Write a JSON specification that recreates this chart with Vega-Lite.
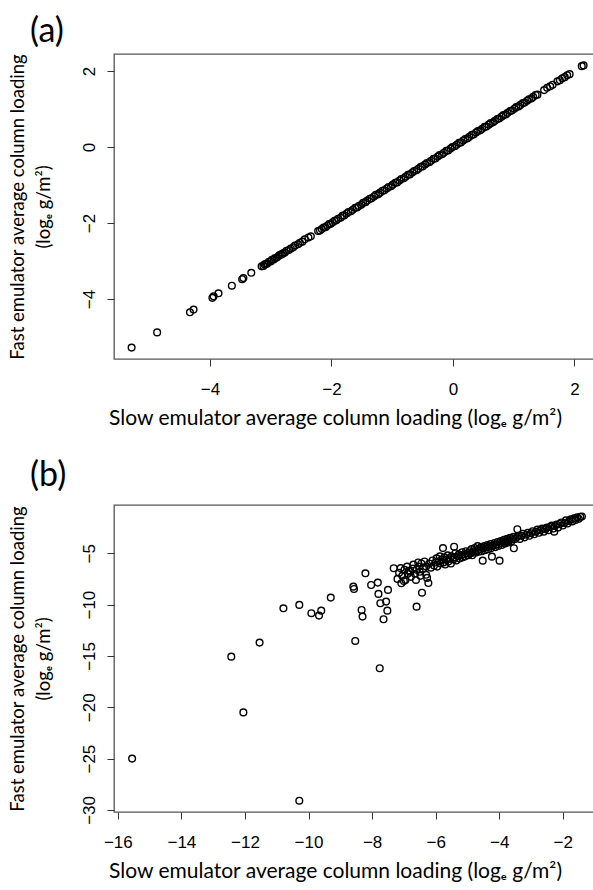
{
  "$schema": "https://vega.github.io/schema/vega-lite/v6.json",
  "background": "white",
  "padding": {"left": 7, "top": 13, "right": 0, "bottom": 0},
  "spacing": 29,
  "config": {
    "view": {"stroke": "#555555", "strokeWidth": 1.3},
    "axis": {
      "domain": false,
      "grid": false,
      "ticks": true,
      "tickSize": 7,
      "tickColor": "#333333",
      "tickWidth": 1,
      "labelFont": "Liberation Sans",
      "labelFontSize": 17,
      "labelColor": "black",
      "titleFont": "Lato",
      "titleFontWeight": "normal",
      "titleColor": "black"
    },
    "axisX": {"labelPadding": 15, "titlePadding": 10, "titleFontSize": 21, "titleX": 221},
    "axisY": {"labelAngle": -90, "labelPadding": 9, "titlePadding": 27, "titleLineHeight": 26, "titleFontSize": 18.5},
    "title": {"font": "Lato", "fontSize": 34, "fontWeight": "normal", "color": "black", "anchor": "start", "frame": "bounds"}
  },
  "datasets": {
    "a": [
      {"x": -5.29, "y": -5.28}, {"x": -4.87, "y": -4.88}, {"x": -4.33, "y": -4.35}, {"x": -4.27, "y": -4.28},
      {"x": -3.96, "y": -3.97}, {"x": -3.94, "y": -3.93}, {"x": -3.86, "y": -3.85}, {"x": -3.64, "y": -3.65},
      {"x": -3.47, "y": -3.48}, {"x": -3.45, "y": -3.45}, {"x": -3.32, "y": -3.31},
      {"x": -3.15, "y": -3.14}, {"x": -3.12, "y": -3.13}, {"x": -3.1, "y": -3.09}, {"x": -3.08, "y": -3.08},
      {"x": -3.06, "y": -3.07}, {"x": -3.03, "y": -3.02}, {"x": -3.0, "y": -3.01}, {"x": -2.98, "y": -2.97},
      {"x": -2.95, "y": -2.96}, {"x": -2.93, "y": -2.92}, {"x": -2.9, "y": -2.91}, {"x": -2.87, "y": -2.87},
      {"x": -2.85, "y": -2.84}, {"x": -2.82, "y": -2.83}, {"x": -2.8, "y": -2.8}, {"x": -2.77, "y": -2.78},
      {"x": -2.74, "y": -2.73}, {"x": -2.7, "y": -2.71}, {"x": -2.67, "y": -2.67}, {"x": -2.63, "y": -2.64},
      {"x": -2.6, "y": -2.59}, {"x": -2.55, "y": -2.56}, {"x": -2.52, "y": -2.52}, {"x": -2.48, "y": -2.49},
      {"x": -2.44, "y": -2.43}, {"x": -2.38, "y": -2.38}, {"x": -2.34, "y": -2.35}, {"x": -2.22, "y": -2.21},
      {"x": -2.19, "y": -2.2}, {"x": -2.16, "y": -2.16}, {"x": -2.13, "y": -2.12}, {"x": -2.1, "y": -2.11},
      {"x": -2.07, "y": -2.07}, {"x": -2.04, "y": -2.03}, {"x": -2.01, "y": -2.02}, {"x": -1.98, "y": -1.98},
      {"x": -1.95, "y": -1.94}, {"x": -1.92, "y": -1.93}, {"x": -1.89, "y": -1.89}, {"x": -1.85, "y": -1.86},
      {"x": -1.82, "y": -1.81}, {"x": -1.79, "y": -1.8}, {"x": -1.75, "y": -1.75}, {"x": -1.72, "y": -1.71},
      {"x": -1.68, "y": -1.69}, {"x": -1.65, "y": -1.65}, {"x": -1.61, "y": -1.6}, {"x": -1.58, "y": -1.59},
      {"x": -1.55, "y": -1.55}, {"x": -1.51, "y": -1.52}, {"x": -1.48, "y": -1.47}, {"x": -1.44, "y": -1.45},
      {"x": -1.41, "y": -1.41}, {"x": -1.37, "y": -1.36}, {"x": -1.34, "y": -1.35}, {"x": -1.3, "y": -1.3},
      {"x": -1.27, "y": -1.26}, {"x": -1.23, "y": -1.24}, {"x": -1.2, "y": -1.2}, {"x": -1.16, "y": -1.15},
      {"x": -1.13, "y": -1.14}, {"x": -1.09, "y": -1.09}, {"x": -1.06, "y": -1.05}, {"x": -1.02, "y": -1.03},
      {"x": -0.99, "y": -0.99}, {"x": -0.95, "y": -0.94}, {"x": -0.92, "y": -0.93}, {"x": -0.88, "y": -0.88},
      {"x": -0.85, "y": -0.84}, {"x": -0.81, "y": -0.82}, {"x": -0.78, "y": -0.78}, {"x": -0.74, "y": -0.73},
      {"x": -0.71, "y": -0.72}, {"x": -0.67, "y": -0.67}, {"x": -0.64, "y": -0.63}, {"x": -0.6, "y": -0.61},
      {"x": -0.57, "y": -0.57}, {"x": -0.53, "y": -0.52}, {"x": -0.5, "y": -0.51}, {"x": -0.46, "y": -0.46},
      {"x": -0.43, "y": -0.42}, {"x": -0.39, "y": -0.4}, {"x": -0.36, "y": -0.36}, {"x": -0.32, "y": -0.31},
      {"x": -0.29, "y": -0.3}, {"x": -0.25, "y": -0.25}, {"x": -0.22, "y": -0.21}, {"x": -0.18, "y": -0.19},
      {"x": -0.15, "y": -0.15}, {"x": -0.11, "y": -0.1}, {"x": -0.08, "y": -0.09}, {"x": -0.04, "y": -0.04},
      {"x": -0.01, "y": 0.0}, {"x": 0.03, "y": 0.02}, {"x": 0.06, "y": 0.06}, {"x": 0.1, "y": 0.11},
      {"x": 0.13, "y": 0.12}, {"x": 0.17, "y": 0.17}, {"x": 0.2, "y": 0.21}, {"x": 0.24, "y": 0.23},
      {"x": 0.27, "y": 0.27}, {"x": 0.31, "y": 0.32}, {"x": 0.34, "y": 0.33}, {"x": 0.38, "y": 0.38},
      {"x": 0.41, "y": 0.42}, {"x": 0.45, "y": 0.44}, {"x": 0.48, "y": 0.48}, {"x": 0.52, "y": 0.53},
      {"x": 0.55, "y": 0.54}, {"x": 0.59, "y": 0.59}, {"x": 0.62, "y": 0.63}, {"x": 0.66, "y": 0.65},
      {"x": 0.69, "y": 0.69}, {"x": 0.73, "y": 0.74}, {"x": 0.76, "y": 0.75}, {"x": 0.8, "y": 0.8},
      {"x": 0.83, "y": 0.84}, {"x": 0.87, "y": 0.86}, {"x": 0.9, "y": 0.9}, {"x": 0.94, "y": 0.95},
      {"x": 0.97, "y": 0.96}, {"x": 1.01, "y": 1.01}, {"x": 1.04, "y": 1.05}, {"x": 1.08, "y": 1.07},
      {"x": 1.11, "y": 1.11}, {"x": 1.15, "y": 1.16}, {"x": 1.18, "y": 1.17}, {"x": 1.22, "y": 1.22},
      {"x": 1.25, "y": 1.26}, {"x": 1.29, "y": 1.28}, {"x": 1.32, "y": 1.32}, {"x": 1.36, "y": 1.37},
      {"x": 1.39, "y": 1.38}, {"x": 1.5, "y": 1.5}, {"x": 1.55, "y": 1.56}, {"x": 1.6, "y": 1.6},
      {"x": 1.64, "y": 1.64}, {"x": 1.72, "y": 1.73}, {"x": 1.76, "y": 1.76}, {"x": 1.8, "y": 1.81},
      {"x": 1.84, "y": 1.84}, {"x": 1.88, "y": 1.89}, {"x": 1.92, "y": 1.92}, {"x": 2.12, "y": 2.13},
      {"x": 2.15, "y": 2.15}
    ],
    "b": [
      {"x": -15.55, "y": -25.0}, {"x": -12.05, "y": -20.5}, {"x": -10.29, "y": -29.1}, {"x": -12.43, "y": -15.07},
      {"x": -11.54, "y": -13.7}, {"x": -10.79, "y": -10.36}, {"x": -10.29, "y": -10.03}, {"x": -9.91, "y": -10.84},
      {"x": -9.67, "y": -11.07}, {"x": -9.6, "y": -10.59}, {"x": -9.3, "y": -9.32}, {"x": -8.59, "y": -8.25},
      {"x": -8.57, "y": -8.48}, {"x": -8.53, "y": -13.54}, {"x": -8.33, "y": -10.52}, {"x": -8.3, "y": -11.17},
      {"x": -8.21, "y": -6.95}, {"x": -8.03, "y": -8.09}, {"x": -7.82, "y": -7.86}, {"x": -7.8, "y": -8.96},
      {"x": -7.74, "y": -9.87}, {"x": -7.56, "y": -9.71}, {"x": -7.64, "y": -11.43}, {"x": -7.52, "y": -10.59},
      {"x": -7.5, "y": -8.57}, {"x": -7.76, "y": -16.2},
      {"x": -7.32, "y": -6.46}, {"x": -7.1, "y": -6.45}, {"x": -7.08, "y": -7.92}, {"x": -7.2, "y": -7.5},
      {"x": -7.15, "y": -6.9}, {"x": -7.05, "y": -7.2}, {"x": -6.98, "y": -6.6}, {"x": -6.95, "y": -7.6},
      {"x": -6.9, "y": -6.3}, {"x": -6.88, "y": -7.0}, {"x": -6.8, "y": -6.8}, {"x": -6.78, "y": -7.3},
      {"x": -6.72, "y": -6.5}, {"x": -6.7, "y": -6.1}, {"x": -6.65, "y": -7.0}, {"x": -6.6, "y": -6.6},
      {"x": -6.55, "y": -5.9}, {"x": -6.52, "y": -6.3}, {"x": -6.48, "y": -7.2}, {"x": -6.45, "y": -6.0},
      {"x": -6.4, "y": -6.5}, {"x": -6.35, "y": -5.8}, {"x": -6.3, "y": -6.3}, {"x": -6.27, "y": -7.4},
      {"x": -6.3, "y": -7.1}, {"x": -6.23, "y": -7.9}, {"x": -6.2, "y": -6.0}, {"x": -6.15, "y": -6.4},
      {"x": -6.1, "y": -5.7}, {"x": -6.05, "y": -6.2}, {"x": -6.6, "y": -10.2}, {"x": -6.43, "y": -8.84},
      {"x": -7.0, "y": -7.7}, {"x": -6.85, "y": -6.7}, {"x": -6.62, "y": -7.6}, {"x": -6.5, "y": -6.8},
      {"x": -6.0, "y": -5.9}, {"x": -5.97, "y": -5.5}, {"x": -5.95, "y": -6.3}, {"x": -5.9, "y": -5.8},
      {"x": -5.87, "y": -5.3}, {"x": -5.85, "y": -6.0}, {"x": -5.8, "y": -5.6}, {"x": -5.77, "y": -4.5},
      {"x": -5.75, "y": -5.9}, {"x": -5.72, "y": -5.4}, {"x": -5.7, "y": -6.1}, {"x": -5.65, "y": -5.6},
      {"x": -5.62, "y": -5.2}, {"x": -5.6, "y": -5.8}, {"x": -5.55, "y": -5.5}, {"x": -5.52, "y": -6.0},
      {"x": -5.5, "y": -5.3}, {"x": -5.45, "y": -5.6}, {"x": -5.42, "y": -4.36}, {"x": -5.4, "y": -5.4},
      {"x": -5.38, "y": -5.0}, {"x": -5.35, "y": -5.7}, {"x": -5.3, "y": -5.3}, {"x": -5.27, "y": -5.1},
      {"x": -5.25, "y": -5.5}, {"x": -5.2, "y": -5.2}, {"x": -5.17, "y": -4.9}, {"x": -5.15, "y": -5.4},
      {"x": -5.1, "y": -5.1}, {"x": -5.07, "y": -5.3}, {"x": -5.05, "y": -4.8}, {"x": -5.0, "y": -5.0},
      {"x": -4.97, "y": -5.2}, {"x": -4.93, "y": -4.8}, {"x": -4.9, "y": -5.0}, {"x": -4.87, "y": -4.6},
      {"x": -4.85, "y": -5.2}, {"x": -4.8, "y": -4.8}, {"x": -4.77, "y": -4.5}, {"x": -4.75, "y": -4.95},
      {"x": -4.7, "y": -4.7}, {"x": -4.68, "y": -4.3}, {"x": -4.65, "y": -4.85}, {"x": -4.6, "y": -4.6},
      {"x": -4.57, "y": -4.4}, {"x": -4.55, "y": -4.8}, {"x": -4.52, "y": -5.72}, {"x": -4.5, "y": -4.5},
      {"x": -4.47, "y": -4.3}, {"x": -4.45, "y": -4.7}, {"x": -4.4, "y": -4.4}, {"x": -4.37, "y": -4.2},
      {"x": -4.35, "y": -4.6}, {"x": -4.3, "y": -4.3}, {"x": -4.27, "y": -4.1}, {"x": -4.25, "y": -4.5},
      {"x": -4.23, "y": -5.33}, {"x": -4.2, "y": -4.25}, {"x": -4.15, "y": -4.0}, {"x": -4.12, "y": -4.4},
      {"x": -4.1, "y": -4.15}, {"x": -4.05, "y": -3.9}, {"x": -4.03, "y": -4.3},
      {"x": -3.99, "y": -5.72}, {"x": -3.98, "y": -4.0}, {"x": -3.95, "y": -3.8}, {"x": -3.92, "y": -4.2},
      {"x": -3.9, "y": -3.9}, {"x": -3.85, "y": -3.7}, {"x": -3.82, "y": -4.05}, {"x": -3.8, "y": -3.85},
      {"x": -3.75, "y": -3.6}, {"x": -3.72, "y": -3.95}, {"x": -3.7, "y": -3.75}, {"x": -3.65, "y": -3.5},
      {"x": -3.62, "y": -3.85}, {"x": -3.6, "y": -3.65}, {"x": -3.55, "y": -3.4}, {"x": -3.54, "y": -4.51},
      {"x": -3.5, "y": -3.6}, {"x": -3.45, "y": -3.45}, {"x": -3.43, "y": -2.66}, {"x": -3.4, "y": -3.3},
      {"x": -3.35, "y": -3.6}, {"x": -3.3, "y": -3.3}, {"x": -3.25, "y": -3.1}, {"x": -3.2, "y": -3.45},
      {"x": -3.15, "y": -3.2}, {"x": -3.1, "y": -3.0}, {"x": -3.05, "y": -3.3}, {"x": -3.0, "y": -3.05},
      {"x": -2.95, "y": -2.85}, {"x": -2.9, "y": -3.15}, {"x": -2.85, "y": -2.9}, {"x": -2.8, "y": -2.7},
      {"x": -2.75, "y": -3.0}, {"x": -2.7, "y": -2.75}, {"x": -2.65, "y": -2.6}, {"x": -2.6, "y": -2.9},
      {"x": -2.55, "y": -2.65}, {"x": -2.5, "y": -2.5}, {"x": -2.45, "y": -2.75}, {"x": -2.4, "y": -2.45},
      {"x": -2.35, "y": -2.3}, {"x": -2.3, "y": -2.6}, {"x": -2.27, "y": -2.9}, {"x": -2.25, "y": -2.35},
      {"x": -2.2, "y": -2.2}, {"x": -2.15, "y": -2.5}, {"x": -2.1, "y": -2.15}, {"x": -2.05, "y": -2.0},
      {"x": -2.0, "y": -2.3}, {"x": -1.95, "y": -2.05}, {"x": -1.9, "y": -1.8}, {"x": -1.85, "y": -2.1},
      {"x": -1.8, "y": -1.85}, {"x": -1.75, "y": -1.7}, {"x": -1.7, "y": -1.9}, {"x": -1.65, "y": -1.6},
      {"x": -1.6, "y": -1.75}, {"x": -1.55, "y": -1.5}, {"x": -1.5, "y": -1.65}, {"x": -1.45, "y": -1.45},
      {"x": -1.4, "y": -1.42}
    ]
  },
  "vconcat": [
    {
      "data": {"name": "a"},
      "width": 486,
      "height": 305,
      "title": {"text": "(a)", "dx": 22, "offset": 5},
      "mark": {"type": "point", "shape": "circle", "filled": false, "color": "black", "size": 45, "strokeWidth": 1.4, "opacity": 1},
      "encoding": {
        "x": {
          "field": "x", "type": "quantitative",
          "scale": {"domain": [-5.58, 2.42], "nice": false, "zero": false},
          "axis": {"values": [-4, -2, 0, 2], "title": "Slow emulator average column loading (logₑ g/m²)"}
        },
        "y": {
          "field": "y", "type": "quantitative",
          "scale": {"domain": [-5.58, 2.45], "nice": false, "zero": false},
          "axis": {"values": [-4, -2, 0, 2], "title": ["Fast emulator average column loading", "(logₑ g/m²)"]}
        }
      }
    },
    {
      "data": {"name": "b"},
      "width": 486,
      "height": 307,
      "title": {"text": "(b)", "dx": 22, "offset": 12},
      "mark": {"type": "point", "shape": "circle", "filled": false, "color": "black", "size": 45, "strokeWidth": 1.4, "opacity": 1},
      "encoding": {
        "x": {
          "field": "x", "type": "quantitative",
          "scale": {"domain": [-16.12, -0.83], "nice": false, "zero": false},
          "axis": {"values": [-16, -14, -12, -10, -8, -6, -4, -2], "title": "Slow emulator average column loading (logₑ g/m²)"}
        },
        "y": {
          "field": "y", "type": "quantitative",
          "scale": {"domain": [-30.2, -0.3], "nice": false, "zero": false},
          "axis": {"values": [-30, -25, -20, -15, -10, -5], "title": ["Fast emulator average column loading", "(logₑ g/m²)"]}
        }
      }
    }
  ]
}
